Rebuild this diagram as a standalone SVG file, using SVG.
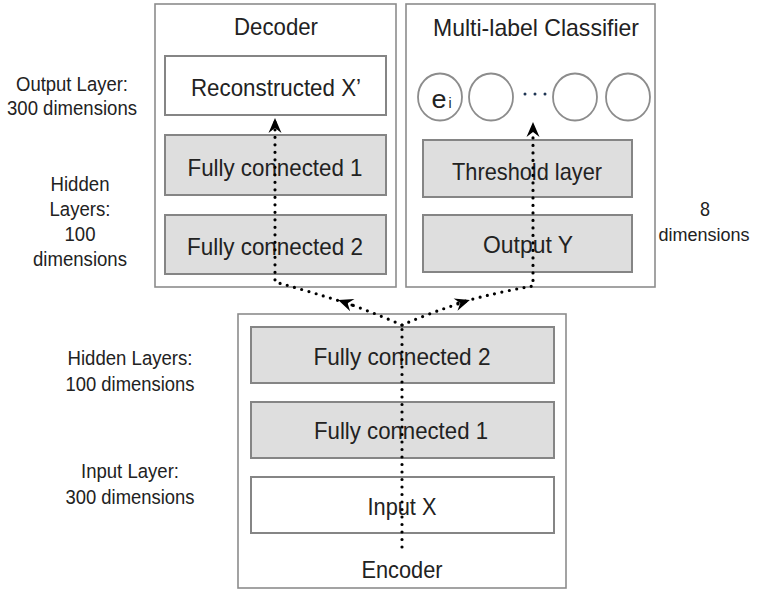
<svg xmlns="http://www.w3.org/2000/svg" width="760" height="590" viewBox="0 0 760 590">
  <defs>
    <style>
      .outer { fill: #ffffff; stroke: #8c8c8c; stroke-width: 1.6; }
      .layer { fill: #dedede; stroke: #858585; stroke-width: 2; }
      .plain { fill: #ffffff; stroke: #858585; stroke-width: 2; }
      .unit { fill: #ffffff; stroke: #8c8c8c; stroke-width: 1.8; }
      .t { font-family: "Liberation Sans", Arial, sans-serif; fill: #222222; text-anchor: middle; }
      .lbl { font-size: 24px; }
      .side { font-size: 20.5px; }
      .flow { fill: none; stroke: #000000; stroke-width: 3.2; stroke-linecap: round; stroke-dasharray: 0 7.5; }
    </style>
    <marker id="arrow" markerUnits="userSpaceOnUse" markerWidth="24" markerHeight="24" refX="0" refY="0" viewBox="-16 -12 24 24" orient="auto">
      <path d="M3,0 L-12,-6.5 L-7,0 L-12,6.5 Z" fill="#000000"/>
    </marker>
  </defs>

  <rect width="760" height="590" fill="#ffffff"/>

  <!-- side labels -->
  <g id="label-output-layer">
    <text class="t side" x="72" y="91" textLength="112" lengthAdjust="spacingAndGlyphs">Output Layer:</text>
    <text class="t side" x="72" y="115" textLength="130" lengthAdjust="spacingAndGlyphs">300 dimensions</text>
  </g>
  <g id="label-decoder-hidden">
    <text class="t side" x="80" y="191" textLength="59" lengthAdjust="spacingAndGlyphs">Hidden</text>
    <text class="t side" x="80" y="216" textLength="61" lengthAdjust="spacingAndGlyphs">Layers:</text>
    <text class="t side" x="80" y="241" textLength="31" lengthAdjust="spacingAndGlyphs">100</text>
    <text class="t side" x="80" y="266" textLength="94" lengthAdjust="spacingAndGlyphs">dimensions</text>
  </g>
  <g id="label-classifier-dims">
    <text class="t side" x="705" y="216" textLength="10" lengthAdjust="spacingAndGlyphs">8</text>
    <text class="t" x="704" y="241" font-size="18">dimensions</text>
  </g>
  <g id="label-encoder-hidden">
    <text class="t side" x="130" y="365" textLength="125" lengthAdjust="spacingAndGlyphs">Hidden Layers:</text>
    <text class="t side" x="130" y="391" textLength="129" lengthAdjust="spacingAndGlyphs">100 dimensions</text>
  </g>
  <g id="label-input-layer">
    <text class="t side" x="130" y="478" textLength="98" lengthAdjust="spacingAndGlyphs">Input Layer:</text>
    <text class="t side" x="130" y="504" textLength="129" lengthAdjust="spacingAndGlyphs">300 dimensions</text>
  </g>

  <!-- Decoder -->
  <g id="decoder">
    <rect class="outer" x="155" y="4" width="241" height="283"/>
    <text class="t lbl" x="276" y="35" textLength="84" lengthAdjust="spacingAndGlyphs">Decoder</text>
  </g>
  <g id="reconstructed-x">
    <rect class="plain" x="165" y="56" width="221" height="59"/>
    <text class="t lbl" x="276" y="96" textLength="170" lengthAdjust="spacingAndGlyphs">Reconstructed X’</text>
  </g>
  <g id="decoder-fc1">
    <rect class="layer" x="165" y="135" width="221" height="60"/>
    <text class="t lbl" x="275" y="176" textLength="175" lengthAdjust="spacingAndGlyphs">Fully connected 1</text>
  </g>
  <g id="decoder-fc2">
    <rect class="layer" x="165" y="215" width="221" height="59"/>
    <text class="t lbl" x="275" y="255" textLength="176" lengthAdjust="spacingAndGlyphs">Fully connected 2</text>
  </g>

  <!-- Multi-label Classifier -->
  <g id="classifier">
    <rect class="outer" x="406" y="4" width="249" height="283"/>
    <text class="t lbl" x="536" y="36" textLength="206" lengthAdjust="spacingAndGlyphs">Multi-label Classifier</text>
  </g>
  <g id="unit-ei">
    <ellipse class="unit" cx="440" cy="97" rx="22" ry="23.5"/>
    <text class="t" x="439" y="108" font-size="26" textLength="15" lengthAdjust="spacingAndGlyphs">e</text>
    <text class="t" x="450" y="108" font-size="14">i</text>
  </g>
  <g id="unit-2">
    <ellipse class="unit" cx="491" cy="97" rx="22" ry="23.5"/>
  </g>
  <g id="unit-ellipsis">
    <circle cx="525" cy="94" r="1.5" fill="#1f3553"/>
    <circle cx="535" cy="94" r="1.5" fill="#1f3553"/>
    <circle cx="545" cy="94" r="1.5" fill="#1f3553"/>
  </g>
  <g id="unit-3">
    <ellipse class="unit" cx="575" cy="97" rx="22" ry="23.5"/>
  </g>
  <g id="unit-4">
    <ellipse class="unit" cx="628" cy="97" rx="22" ry="23.5"/>
  </g>
  <g id="threshold-layer">
    <rect class="layer" x="423" y="140" width="209" height="57"/>
    <text class="t lbl" x="527" y="180" textLength="150" lengthAdjust="spacingAndGlyphs">Threshold layer</text>
  </g>
  <g id="output-y">
    <rect class="layer" x="423" y="215" width="209" height="57"/>
    <text class="t lbl" x="528" y="253" textLength="90" lengthAdjust="spacingAndGlyphs">Output Y</text>
  </g>

  <!-- Encoder -->
  <g id="encoder">
    <rect class="outer" x="238" y="314" width="328" height="274"/>
    <text class="t lbl" x="402" y="578" textLength="81" lengthAdjust="spacingAndGlyphs">Encoder</text>
  </g>
  <g id="encoder-fc2">
    <rect class="layer" x="251" y="327" width="303" height="56"/>
    <text class="t lbl" x="402" y="365" textLength="177" lengthAdjust="spacingAndGlyphs">Fully connected 2</text>
  </g>
  <g id="encoder-fc1">
    <rect class="layer" x="251" y="402" width="303" height="56"/>
    <text class="t lbl" x="401" y="439" textLength="174" lengthAdjust="spacingAndGlyphs">Fully connected 1</text>
  </g>
  <g id="input-x">
    <rect class="plain" x="251" y="477" width="303" height="56"/>
    <text class="t lbl" x="402" y="515" textLength="69" lengthAdjust="spacingAndGlyphs">Input X</text>
  </g>

  <!-- connectors -->
  <g id="connectors">
    <path class="flow" d="M402,547 L402,325"/>
    <path class="flow" d="M402,325 Q372,312 341,301" marker-end="url(#arrow)"/>
    <path class="flow" d="M352,305 Q312,292 275,282 L275,121" marker-end="url(#arrow)"/>
    <path class="flow" d="M402,325 Q432,312 467,301" marker-end="url(#arrow)"/>
    <path class="flow" d="M458,303 Q498,292 533,286 L533,125" marker-end="url(#arrow)"/>
  </g>
</svg>
